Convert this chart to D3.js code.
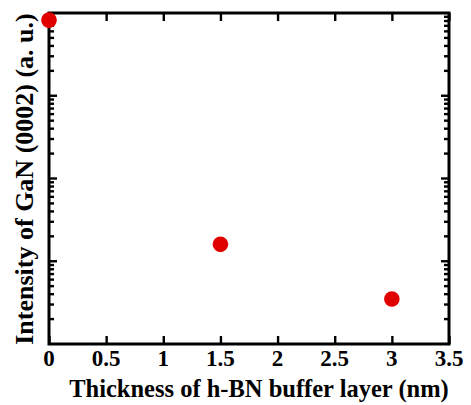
<!DOCTYPE html>
<html>
<head>
<meta charset="utf-8">
<script src="https://cdn.jsdelivr.net/npm/d3@7"></script>
<style>
  body { margin: 0; background: #fff; }
  text { font-family: "Liberation Serif", "Times New Roman", serif; font-weight: bold; }
</style>
</head>
<body>
<svg id="chart" width="471" height="405"></svg>
<script>
// data (log y, arbitrary units)
const thickness = [0, 1.5, 3];
const intensity = [8200, 16, 3.5];
const xTicks = [0, 0.5, 1, 1.5, 2, 2.5, 3, 3.5];
const xTickLabels = ['0', '0.5', '1', '1.5', '2', '2.5', '3', '3.5'];

const width = 471;
const height = 405;
const margin = { top: 13, right: 22, bottom: 61, left: 49 };

const svg = d3.select('#chart');

const x = d3.scaleLinear().domain([0, 3.5]).range([margin.left, width - margin.right]);
const y = d3.scaleLog().domain([1, 10000]).range([height - margin.bottom, margin.top]);

// log ticks: majors at decades, minors in between
const yTicks = y.ticks();
const isMajor = (d) => Math.abs(Math.log10(d) - Math.round(Math.log10(d))) < 1e-9;

const axisStyle = (g) => {
  g.select('.domain').remove();
  g.selectAll('.tick line').attr('stroke', '#000').attr('stroke-width', 2.4);
  g.selectAll('.tick text').remove();
};

// bottom axis (ticks inward)
svg.append('g')
  .attr('transform', `translate(0,${height - margin.bottom})`)
  .call(d3.axisBottom(x).tickValues(xTicks).tickSizeInner(-8).tickSizeOuter(0))
  .call(axisStyle);

// top axis
svg.append('g')
  .attr('transform', `translate(0,${margin.top})`)
  .call(d3.axisTop(x).tickValues(xTicks).tickSizeInner(-8).tickSizeOuter(0))
  .call(axisStyle);

// left / right axes with major and minor log ticks
[['left', margin.left, 1], ['right', width - margin.right, -1]].forEach(([side, px, dir]) => {
  svg.append('g')
    .selectAll('line')
    .data(yTicks.filter((d) => d > 1 && d < 10000))
    .join('line')
    .attr('x1', px)
    .attr('x2', (d) => px + dir * (isMajor(d) ? 8 : 5))
    .attr('y1', (d) => y(d))
    .attr('y2', (d) => y(d))
    .attr('stroke', '#000')
    .attr('stroke-width', 2.4);
});

// frame
svg.append('rect')
  .attr('x', margin.left)
  .attr('y', margin.top)
  .attr('width', width - margin.left - margin.right)
  .attr('height', height - margin.top - margin.bottom)
  .attr('fill', 'none')
  .attr('stroke', '#000')
  .attr('stroke-width', 3);

// x tick labels
svg.append('g')
  .selectAll('text')
  .data(xTicks)
  .join('text')
  .attr('x', (d) => x(d))
  .attr('y', 366)
  .attr('text-anchor', 'middle')
  .attr('font-size', 23)
  .text((d, i) => xTickLabels[i]);

// points
svg.append('g')
  .selectAll('circle')
  .data(thickness)
  .join('circle')
  .attr('cx', (d) => x(d))
  .attr('cy', (d, i) => y(intensity[i]))
  .attr('r', 7.8)
  .attr('fill', '#e00000');

// axis titles
svg.append('text')
  .attr('x', 259)
  .attr('y', 397)
  .attr('text-anchor', 'middle')
  .attr('font-size', 24.5)
  .text('Thickness of h-BN buffer layer (nm)');

svg.append('text')
  .attr('transform', 'translate(33,179) rotate(-90)')
  .attr('text-anchor', 'middle')
  .attr('font-size', 26)
  .text('Intensity of GaN (0002) (a. u.)');
</script>
</body>
</html>
